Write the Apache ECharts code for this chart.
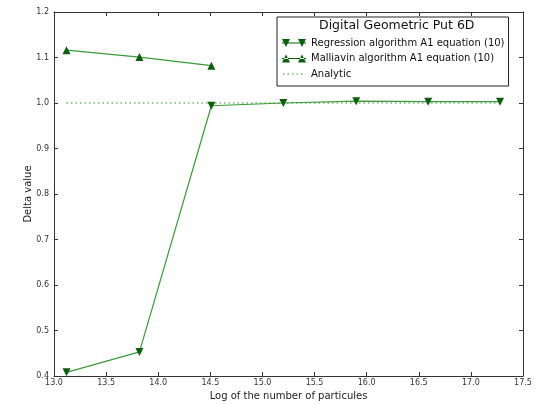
<!DOCTYPE html>
<html>
<head>
<meta charset="utf-8">
<script src="https://cdn.jsdelivr.net/npm/echarts@6/dist/echarts.min.js"></script>
<style>
    html, body { margin: 0; padding: 0; background: #fff; }
    #chart { width: 536px; height: 405px; }
</style>
</head>
<body>
<div id="chart"></div>
<script>
// log of the number of particules
const logN = [13.12, 13.82, 14.51, 15.20, 15.90, 16.59, 17.28];
const regression = [0.408, 0.453, 0.994, 1.000, 1.004, 1.003, 1.003];
const malliavin = [1.116, 1.101, 1.082];
const analytic = [1.0, 1.0, 1.0, 1.0, 1.0, 1.0, 1.0];

const lineGreen = '#3a9a3a';
const markGreen = '#0b5e0b';
const font = 'DejaVu Sans';

function zip(xs, ys) {
    return ys.map((y, i) => [xs[i], y]);
}

const chart = echarts.init(document.getElementById('chart'));

const baseAxis = {
    axisLine: { show: true, lineStyle: { color: '#333', width: 1 } },
    axisTick: { show: true, inside: true, length: 4, lineStyle: { color: '#333' } },
    splitLine: { show: false },
};

const option = {
    animation: false,
    backgroundColor: '#fff',
    textStyle: { fontFamily: font },
    title: {
        text: 'Digital Geometric Put 6D',
        left: 319,
        top: 19,
        padding: 0,
        textStyle: { fontFamily: font, fontSize: 12.5, fontWeight: 'normal', color: '#111' }
    },
    legend: {
        orient: 'vertical',
        left: 277,
        top: 17,
        padding: [20, 4, 6, 5],
        borderColor: '#222',
        borderWidth: 1,
        itemWidth: 24,
        itemHeight: 8,
        itemGap: 3.5,
        textStyle: { fontFamily: font, fontSize: 10, color: '#111', lineHeight: 12 },
        data: [
            { name: 'Regression algorithm A1 equation (10)', icon: 'path://M0,3.5 L24,3.5 L24,4.5 L0,4.5 Z M0,0 L8,0 L4,8 Z M16,0 L24,0 L20,8 Z' },
            { name: 'Malliavin algorithm A1 equation (10)', icon: 'path://M0,3.5 L24,3.5 L24,4.5 L0,4.5 Z M0,8 L8,8 L4,0 Z M16,8 L24,8 L20,0 Z' },
            { name: 'Analytic', icon: 'path://M0,0 L24,0 L24,8 L0,8 Z', itemStyle: { color: 'rgba(0,0,0,0)' } }
        ]
    },
    graphic: [
        {
            // dotted sample for the Analytic legend entry
            type: 'line',
            shape: { x1: 283, y1: 74, x2: 305, y2: 74 },
            style: { stroke: '#74b874', lineWidth: 1.3, lineDash: [1.5, 3] },
            z: 100
        }
    ],
    grid: { left: 54, right: 13, top: 12, bottom: 29, containLabel: false, outerBoundsMode: 'none' },
    xAxis: [
        Object.assign({}, baseAxis, {
            type: 'value', min: 13, max: 17.5, interval: 0.5, position: 'bottom',
            name: 'Log of the number of particules',
            nameLocation: 'middle', nameGap: 15, nameMoveOverlap: false,
            nameTextStyle: { fontFamily: font, fontSize: 10, color: '#222' },
            axisLabel: { fontFamily: font, fontSize: 8, color: '#333', margin: 3, formatter: v => v.toFixed(1) }
        }),
        Object.assign({}, baseAxis, {
            type: 'value', min: 13, max: 17.5, interval: 0.5, position: 'top',
            axisLabel: { show: false }
        })
    ],
    yAxis: [
        Object.assign({}, baseAxis, {
            type: 'value', min: 0.4, max: 1.2, interval: 0.1, position: 'left',
            name: 'Delta value',
            nameLocation: 'middle', nameGap: 21, nameMoveOverlap: false,
            nameTextStyle: { fontFamily: font, fontSize: 10, color: '#222' },
            axisLabel: { fontFamily: font, fontSize: 8, color: '#333', margin: 5, formatter: v => v.toFixed(1) }
        }),
        Object.assign({}, baseAxis, {
            type: 'value', min: 0.4, max: 1.2, interval: 0.1, position: 'right',
            axisLabel: { show: false }
        })
    ],
    series: [
        {
            name: 'Regression algorithm A1 equation (10)',
            type: 'line',
            data: zip(logN, regression),
            symbol: 'triangle',
            symbolRotate: 180,
            symbolSize: 8,
            lineStyle: { color: lineGreen, width: 1.2 },
            itemStyle: { color: markGreen },
            z: 3
        },
        {
            name: 'Malliavin algorithm A1 equation (10)',
            type: 'line',
            data: zip(logN, malliavin),
            symbol: 'triangle',
            symbolSize: 8,
            lineStyle: { color: lineGreen, width: 1.2 },
            itemStyle: { color: markGreen },
            z: 3
        },
        {
            name: 'Analytic',
            type: 'line',
            data: zip(logN, analytic),
            symbol: 'none',
            lineStyle: { color: '#74b874', width: 1.3, type: [1.5, 3] },
            itemStyle: { color: '#74b874' },
            z: 2
        }
    ]
};

option && chart.setOption(option);
</script>
</body>
</html>
